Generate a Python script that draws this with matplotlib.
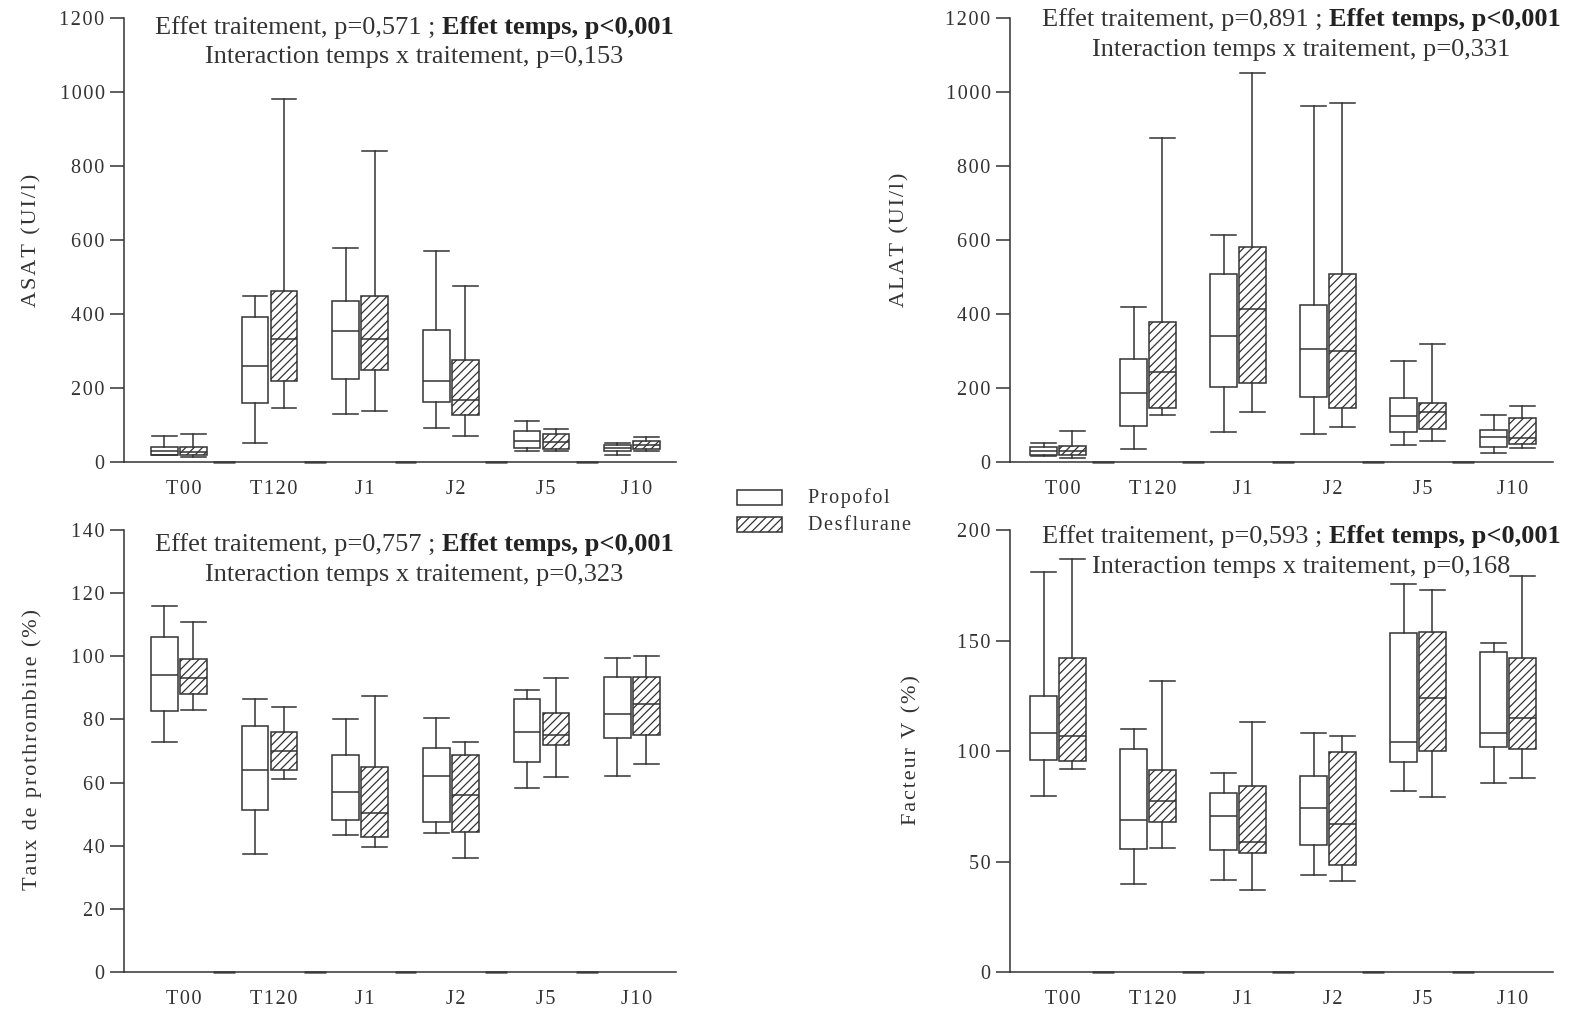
import numpy as np
import matplotlib
matplotlib.use("Agg")
import matplotlib.pyplot as plt
from matplotlib.patches import Rectangle

plt.rcParams['font.family'] = ['Liberation Serif', 'DejaVu Serif']
plt.rcParams['hatch.linewidth'] = 0.9

# categories
groups = ["T00", "T120", "J1", "J2", "J5", "J10"]

# box stats per group: [whisker low, Q1, median, Q3, whisker high]
asat_propofol = [[18, 20, 30, 40, 70], [51, 159, 260, 391, 449], [131, 223, 353, 434, 578],
                 [92, 162, 218, 357, 569], [29, 38, 56, 83, 110], [18, 31, 38, 45, 51]]
asat_desflurane = [[13, 18, 27, 40, 75], [146, 219, 332, 462, 982], [139, 250, 332, 449, 840],
                   [71, 127, 167, 277, 475], [29, 36, 54, 76, 90], [29, 34, 45, 56, 67]]

alat_propofol = [[16, 18, 29, 40, 51], [36, 98, 187, 278, 420], [80, 202, 341, 509, 614],
                 [75, 177, 306, 423, 962], [45, 82, 124, 174, 273], [23, 41, 68, 86, 128]]
alat_desflurane = [[12, 18, 29, 44, 84], [128, 146, 244, 378, 876], [136, 214, 414, 580, 1050],
                   [95, 146, 299, 507, 969], [56, 90, 136, 159, 320], [39, 50, 65, 119, 151]]

tp_propofol = [[72.8, 82.6, 94, 106, 116], [37.3, 51.2, 64, 77.8, 86.5], [43.5, 48, 57, 68.6, 80.2],
               [44, 47.5, 62, 71, 80.4], [58.3, 66.5, 76, 86.5, 89.4], [62, 74.2, 81.6, 93.5, 99.4]]
tp_desflurane = [[83, 88, 93, 99, 111], [61, 64, 70, 76, 84], [39.5, 42.9, 50.5, 64.8, 87.5],
                 [36, 44.5, 56, 68.6, 73], [61.8, 72, 75, 82, 93.2], [66, 75, 85, 93.5, 100]]

fv_propofol = [[79.6, 96, 108.3, 125, 181], [39.9, 55.6, 69, 101, 110], [41.6, 55.2, 70.6, 81, 90],
               [43.8, 57.6, 74, 88.9, 108], [81.7, 95, 104, 153.6, 175.6], [85.4, 102, 108, 145, 149]]
fv_desflurane = [[91.8, 95.7, 107, 142, 187], [56, 67.8, 77.5, 91.5, 131.8], [37, 54, 59, 84, 113],
                 [41, 48.6, 67, 99.5, 107], [79, 100, 124, 154, 173], [88, 101, 115, 142, 179]]

p_traitement = ["0,571", "0,891", "0,757", "0,593"]
p_interaction = ["0,153", "0,331", "0,323", "0,168"]

W, H = 1576, 1013
fig = plt.figure(figsize=(W / 100, H / 100), dpi=100)
ink = "#333333"
HS = "\u200a"  # hair space, mimics the letter spacing of the original


def fx(px):
    return px / W


def fy(py):
    return 1 - py / H


def spaced(s):
    return HS.join(s)


def to_stats(rows):
    return [dict(whislo=r[0], q1=r[1], med=r[2], q3=r[3], whishi=r[4]) for r in rows]


panels = [
    # (left, right, top, bottom px), xlim, ylim, yticks, ylabel, label pos px, propofol, desflurane, text rows
    ((124, 676, 18, 462), (-0.607, 5.486), (0, 1200), np.arange(0, 1201, 200), "ASAT (UI/l)", (32, 240),
     asat_propofol, asat_desflurane, (28, 57), 414),
    ((1010, 1553, 18, 462), (-0.533, 5.5), (0, 1200), np.arange(0, 1201, 200), "ALAT (UI/l)", (900, 240),
     alat_propofol, alat_desflurane, (20, 50), 1301),
    ((124, 676, 530, 972), (-0.607, 5.486), (0, 140), np.arange(0, 141, 20), "Taux de prothrombine (%)",
     (32, 750), tp_propofol, tp_desflurane, (545, 575), 414),
    ((1010, 1553, 530, 972), (-0.533, 5.5), (0, 200), np.arange(0, 201, 50), "Facteur V (%)", (912, 750),
     fv_propofol, fv_desflurane, (537, 567), 1301),
]

pos = np.arange(len(groups))
bw = 0.295
off = 0.16
texts = []
for i, (box, xl, yl, yt, ylab, lab_xy, prop, desf, ty, tx) in enumerate(panels):
    l, r, t, b = box
    ax = fig.add_axes([fx(l), fy(b), fx(r) - fx(l), fy(t) - fy(b)])
    common = dict(widths=bw, capwidths=bw * 0.92, patch_artist=True, showfliers=False,
                  medianprops=dict(color=ink, linewidth=1.1),
                  whiskerprops=dict(color=ink, linewidth=1.1),
                  capprops=dict(color=ink, linewidth=1.1))
    ax.bxp(to_stats(prop), positions=pos - off,
           boxprops=dict(facecolor="white", edgecolor=ink, linewidth=1.1), **common)
    ax.bxp(to_stats(desf), positions=pos + off,
           boxprops=dict(facecolor="white", edgecolor=ink, linewidth=1.1, hatch="////"), **common)
    ax.set_xlim(*xl)
    ax.set_ylim(*yl)
    ax.set_yticks(yt)
    ax.set_yticklabels([spaced(str(v)) for v in yt])
    ax.set_xticks(pos + 0.05)
    ax.set_xticklabels([spaced(g) for g in groups])
    for s in ["top", "right"]:
        ax.spines[s].set_visible(False)
    for s in ["left", "bottom"]:
        ax.spines[s].set_color(ink)
        ax.spines[s].set_linewidth(1.1)
    ax.tick_params(axis="y", length=10, width=1.1, color=ink, labelcolor=ink, labelsize=14.5, pad=4)
    ax.tick_params(axis="x", length=0, labelcolor=ink, labelsize=14.5, pad=13)
    # slightly heavier segments on the x axis between groups
    for k in range(len(groups) - 1):
        ax.plot([k + 0.38, k + 0.62], [yl[0], yl[0]], color="#555555", lw=1.8, clip_on=False,
                solid_capstyle="butt")
    fig.text(fx(lab_xy[0]), fy(lab_xy[1]), spaced(ylab), fontsize=16, color=ink, rotation=90,
             ha="center", va="center")

    xc = fx(tx)
    t1 = fig.text(xc, fy(ty[0]), "Effet traitement, p=%s ; " % p_traitement[i],
                  fontsize=19, color=ink, ha="left", va="center")
    t2 = fig.text(0, 0, "Effet temps, p<0,001", fontsize=19, color="#222222",
                  fontweight="bold", ha="left", va="bottom")
    fig.text(xc, fy(ty[1]), "Interaction temps x traitement, p=%s" % p_interaction[i],
             fontsize=19, color=ink, ha="center", va="center")
    texts.append((t1, t2, xc))

# center the mixed-weight first lines
fig.canvas.draw()
rend = fig.canvas.get_renderer()
for t1, t2, xc in texts:
    b1 = t1.get_window_extent(rend)
    b2 = t2.get_window_extent(rend)
    total = b1.width + b2.width
    x0 = xc * W - total / 2
    t1.set_position((x0 / W, t1.get_position()[1]))
    b1 = t1.get_window_extent(rend)
    t2.set_position(((x0 + b1.width) / W, b1.y0 / H))

# legend
fig.add_artist(Rectangle((fx(737), fy(505)), fx(782) - fx(737), fy(490) - fy(505),
                         transform=fig.transFigure, facecolor="white", edgecolor=ink, lw=1.1))
fig.add_artist(Rectangle((fx(737), fy(532)), fx(782) - fx(737), fy(517) - fy(532),
                         transform=fig.transFigure, facecolor="white", edgecolor=ink, lw=1.1,
                         hatch="////"))
fig.text(fx(808), fy(498), spaced("Propofol"), fontsize=14.5, color=ink, va="center")
fig.text(fx(808), fy(525), spaced("Desflurane"), fontsize=14.5, color=ink, va="center")

fig.savefig("out.png", dpi=100)
